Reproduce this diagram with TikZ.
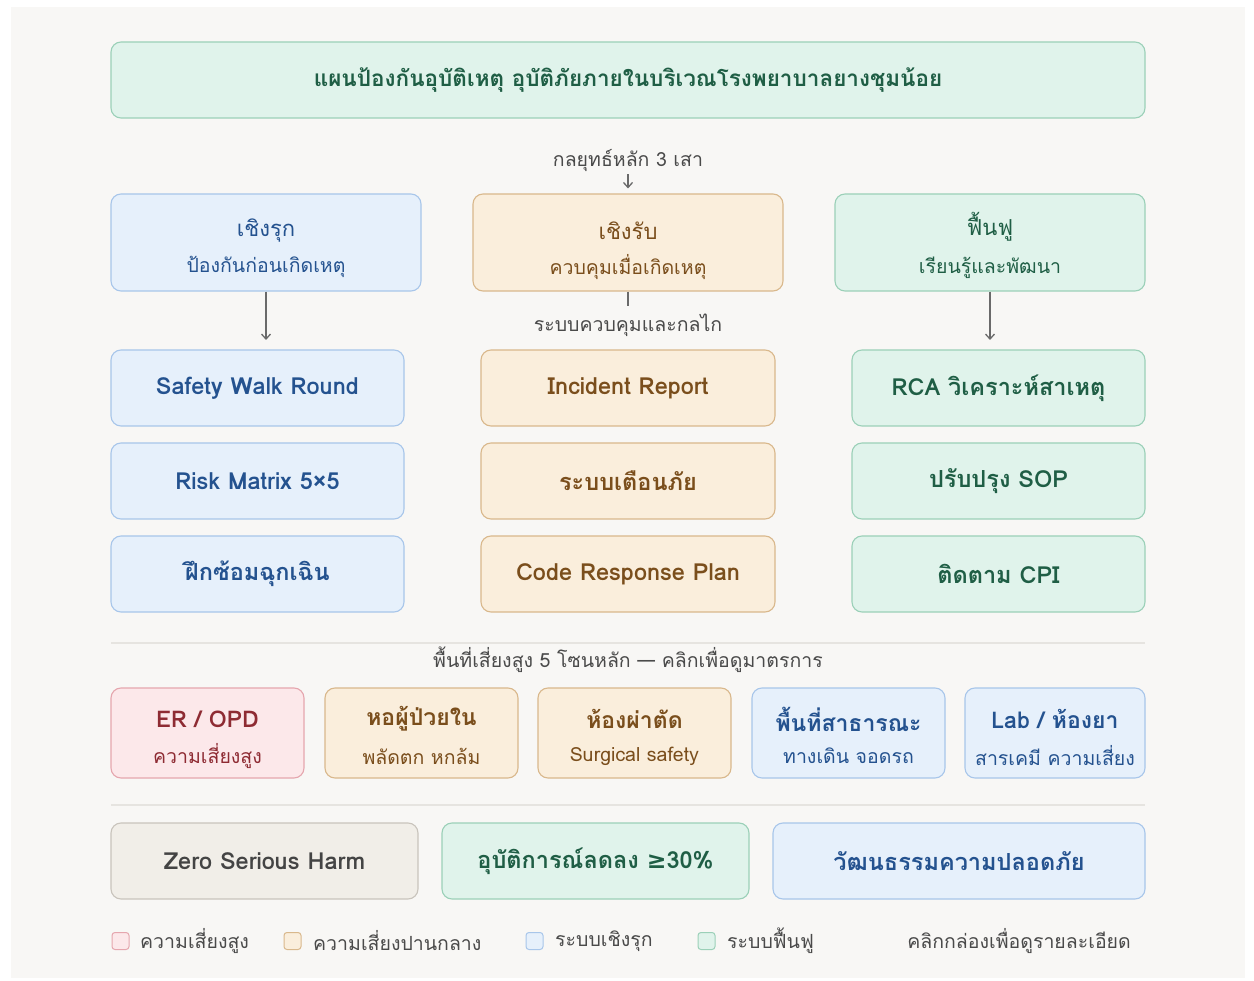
\documentclass[tikz,border=0pt]{standalone}
\usepackage{fontspec}
\setmainfont[Script=Thai]{Loma}
\newfontfamily\symfont{DejaVu Sans}
\usetikzlibrary{arrows.meta}
\definecolor{bgc}{HTML}{F8F7F5}
\definecolor{bfill}{HTML}{E6F0FB}\definecolor{bline}{HTML}{A8C6EA}\definecolor{btext}{HTML}{24528F}
\definecolor{ofill}{HTML}{FAEEDC}\definecolor{oline}{HTML}{D9B88C}\definecolor{otext}{HTML}{7A4E1C}
\definecolor{gfill}{HTML}{E0F3EB}\definecolor{gline}{HTML}{9BD0B8}\definecolor{gtext}{HTML}{1F5E45}
\definecolor{rfill}{HTML}{FCE8EA}\definecolor{rline}{HTML}{E5A6AE}\definecolor{rtext}{HTML}{8E2B33}
\definecolor{nfill}{HTML}{F1EEE8}\definecolor{nline}{HTML}{C9C4BC}\definecolor{ntext}{HTML}{444444}
\definecolor{sepc}{HTML}{E6E4E0}\definecolor{labc}{HTML}{4A4A4A}\definecolor{arrc}{HTML}{6A6A6A}
\tikzset{
  box/.style={draw, line width=1.1pt, rounded corners=10pt, inner sep=0pt},
  bluebox/.style={box, fill=bfill, draw=bline, text=btext},
  orgbox/.style={box, fill=ofill, draw=oline, text=otext},
  grnbox/.style={box, fill=gfill, draw=gline, text=gtext},
  redbox/.style={box, fill=rfill, draw=rline, text=rtext},
  grybox/.style={box, fill=nfill, draw=nline, text=ntext},
  rowtxt/.style={font=\bfseries\fontsize{23.5}{27}\selectfont},
  ttl/.style={font=\fontsize{22}{25}\selectfont, inner sep=0pt},
  sub/.style={font=\fontsize{19.5}{22}\selectfont, inner sep=0pt},
  lab/.style={font=\fontsize{19.5}{22}\selectfont, text=labc, inner sep=0pt},
  zt/.style={font=\bfseries\fontsize{23}{26}\selectfont, inner sep=0pt},
  zs/.style={font=\fontsize{19.5}{22}\selectfont, inner sep=0pt},
  leg/.style={draw, line width=1pt, rounded corners=3pt, minimum width=17pt, minimum height=17pt, inner sep=0pt},
  legtxt/.style={font=\fontsize{19.5}{22}\selectfont, text=labc, anchor=west, inner sep=0pt},
  arr/.style={draw=arrc, line width=1.3pt, -{Straight Barb[length=5pt,width=9pt]}},
}
\begin{document}
\begin{tikzpicture}[x=1pt,y=-1pt]
\useasboundingbox (0,0) rectangle (1254,981);
\fill[white] (0,0) rectangle (1254,981);
\fill[bgc] (11,7) rectangle (1245,978);
% title
\node[grnbox, minimum width=1034pt, minimum height=76pt, font=\bfseries\fontsize{22.5}{26}\selectfont] (title) at (628,80) {แผนป้องกันอุบัติเหตุ อุบัติภัยภายในบริเวณโรงพยาบาลยางชุมน้อย};
% pillars
\node[lab] (strat) at (628,160) {กลยุทธ์หลัก 3 เสา};
\node[bluebox, minimum width=310pt, minimum height=97pt] (lp) at (266,242.5) {};
\node[orgbox, minimum width=310pt, minimum height=97pt] (mp) at (628,242.5) {};
\node[grnbox, minimum width=310pt, minimum height=97pt] (rp) at (990,242.5) {};
\node[ttl, text=btext] (lpt) at (266,231) {เชิงรุก};
\node[sub, text=btext] (lps) at (266,267) {ป้องกันก่อนเกิดเหตุ};
\node[ttl, text=otext] (mpt) at (628,231) {เชิงรับ};
\node[sub, text=otext] (mps) at (628,267) {ควบคุมเมื่อเกิดเหตุ};
\node[ttl, text=gtext] (rpt) at (990,227) {ฟื้นฟู};
\node[sub, text=gtext] (rps) at (990,268) {เรียนรู้และพัฒนา};
\draw[arr, shorten >=5pt, shorten <=3pt] (strat.south) -- (mp.north);
% rows
\node[bluebox, rowtxt, minimum width=293pt, minimum height=76pt] (l1) at (257.5,388) {Safety Walk Round};
\node[bluebox, rowtxt, minimum width=293pt, minimum height=76pt] (l2) at (257.5,481) {Risk Matrix 5×5};
\node[bluebox, rowtxt, minimum width=293pt, minimum height=76pt] (l3) at (257.5,574) {ฝึกซ้อมฉุกเฉิน};
\node[orgbox, rowtxt, minimum width=294pt, minimum height=76pt] (m1) at (628,388) {Incident Report};
\node[orgbox, rowtxt, minimum width=294pt, minimum height=76pt] (m2) at (628,481) {ระบบเตือนภัย};
\node[orgbox, rowtxt, minimum width=294pt, minimum height=76pt] (m3) at (628,574) {Code Response Plan};
\node[grnbox, rowtxt, minimum width=293pt, minimum height=76pt] (r1) at (998.5,388) {RCA วิเคราะห์สาเหตุ};
\node[grnbox, rowtxt, minimum width=293pt, minimum height=76pt] (r2) at (998.5,481) {ปรับปรุง SOP};
\node[grnbox, rowtxt, minimum width=293pt, minimum height=76pt] (r3) at (998.5,574) {ติดตาม CPI};
\coordinate (la) at (266,340);
\coordinate (ra) at (990,340);
\draw[arr] (lp.south) -- (la);
\draw[arr] (rp.south) -- (ra);
\node[lab] (ctrl) at (628,325) {ระบบควบคุมและกลไก};
\coordinate (ce) at (628,306);
\draw[draw=arrc, line width=1.3pt] (mp.south) -- (ce);
% separator 1
\coordinate (s1a) at (111,643); \coordinate (s1b) at (1145,643);
\draw[sepc, line width=1.2pt] (s1a) -- (s1b);
\node[lab] (zl) at (628,660) {พื้นที่เสี่ยงสูง 5 โซนหลัก — คลิกเพื่อดูมาตรการ};
% zones
\node[redbox, minimum width=193pt, minimum height=90pt] (z1) at (207.5,733) {};
\node[orgbox, minimum width=193pt, minimum height=90pt] (z2) at (421.5,733) {};
\node[orgbox, minimum width=193pt, minimum height=90pt] (z3) at (634.5,733) {};
\node[bluebox, minimum width=193pt, minimum height=90pt] (z4) at (848.5,733) {};
\node[bluebox, minimum width=180pt, minimum height=90pt] (z5) at (1055,733) {};
\node[zt, text=rtext] (z1t) at (207.5,719) {ER / OPD};
\node[zs, text=rtext] (z1s) at (207.5,756) {ความเสี่ยงสูง};
\node[zt, text=otext] (z2t) at (421.5,719) {หอผู้ป่วยใน};
\node[zs, text=otext] (z2s) at (421.5,756) {พลัดตก หกล้ม};
\node[zt, text=otext] (z3t) at (634.5,719) {ห้องผ่าตัด};
\node[zs, text=otext] (z3s) at (634.5,756) {Surgical safety};
\node[zt, text=btext] (z4t) at (848.5,719) {พื้นที่สาธารณะ};
\node[zs, text=btext] (z4s) at (848.5,756) {ทางเดิน จอดรถ};
\node[zt, text=btext] (z5t) at (1055,719) {Lab / ห้องยา};
\node[zs, text=btext] (z5s) at (1055,756) {สารเคมี ความเสี่ยง};
% separator 2
\coordinate (s2a) at (111,805); \coordinate (s2b) at (1145,805);
\draw[sepc, line width=1.2pt] (s2a) -- (s2b);
% outcomes
\node[grybox, rowtxt, minimum width=307pt, minimum height=76pt] (o1) at (264.5,861) {Zero Serious Harm};
\node[grnbox, rowtxt, minimum width=307pt, minimum height=76pt] (o2) at (595.5,861) {อุบัติการณ์ลดลง {\symfont\bfseries ≥}30\%};
\node[bluebox, rowtxt, minimum width=372pt, minimum height=76pt] (o3) at (959,861) {วัฒนธรรมความปลอดภัย};
% legend
\node[leg, fill=rfill, draw=rline] (k1) at (120.5,941) {};
\node[legtxt] (k1t) at (140,941) {ความเสี่ยงสูง};
\node[leg, fill=ofill, draw=oline] (k2) at (292.5,941) {};
\node[legtxt] (k2t) at (313,941) {ความเสี่ยงปานกลาง};
\node[leg, fill=bfill, draw=bline] (k3) at (534.5,941) {};
\node[legtxt] (k3t) at (555,941) {ระบบเชิงรุก};
\node[leg, fill=gfill, draw=gline] (k4) at (706.5,941) {};
\node[legtxt] (k4t) at (727,941) {ระบบฟื้นฟู};
\node[legtxt, anchor=east] (k5) at (1131,941) {คลิกกล่องเพื่อดูรายละเอียด};
\end{tikzpicture}
\end{document}
